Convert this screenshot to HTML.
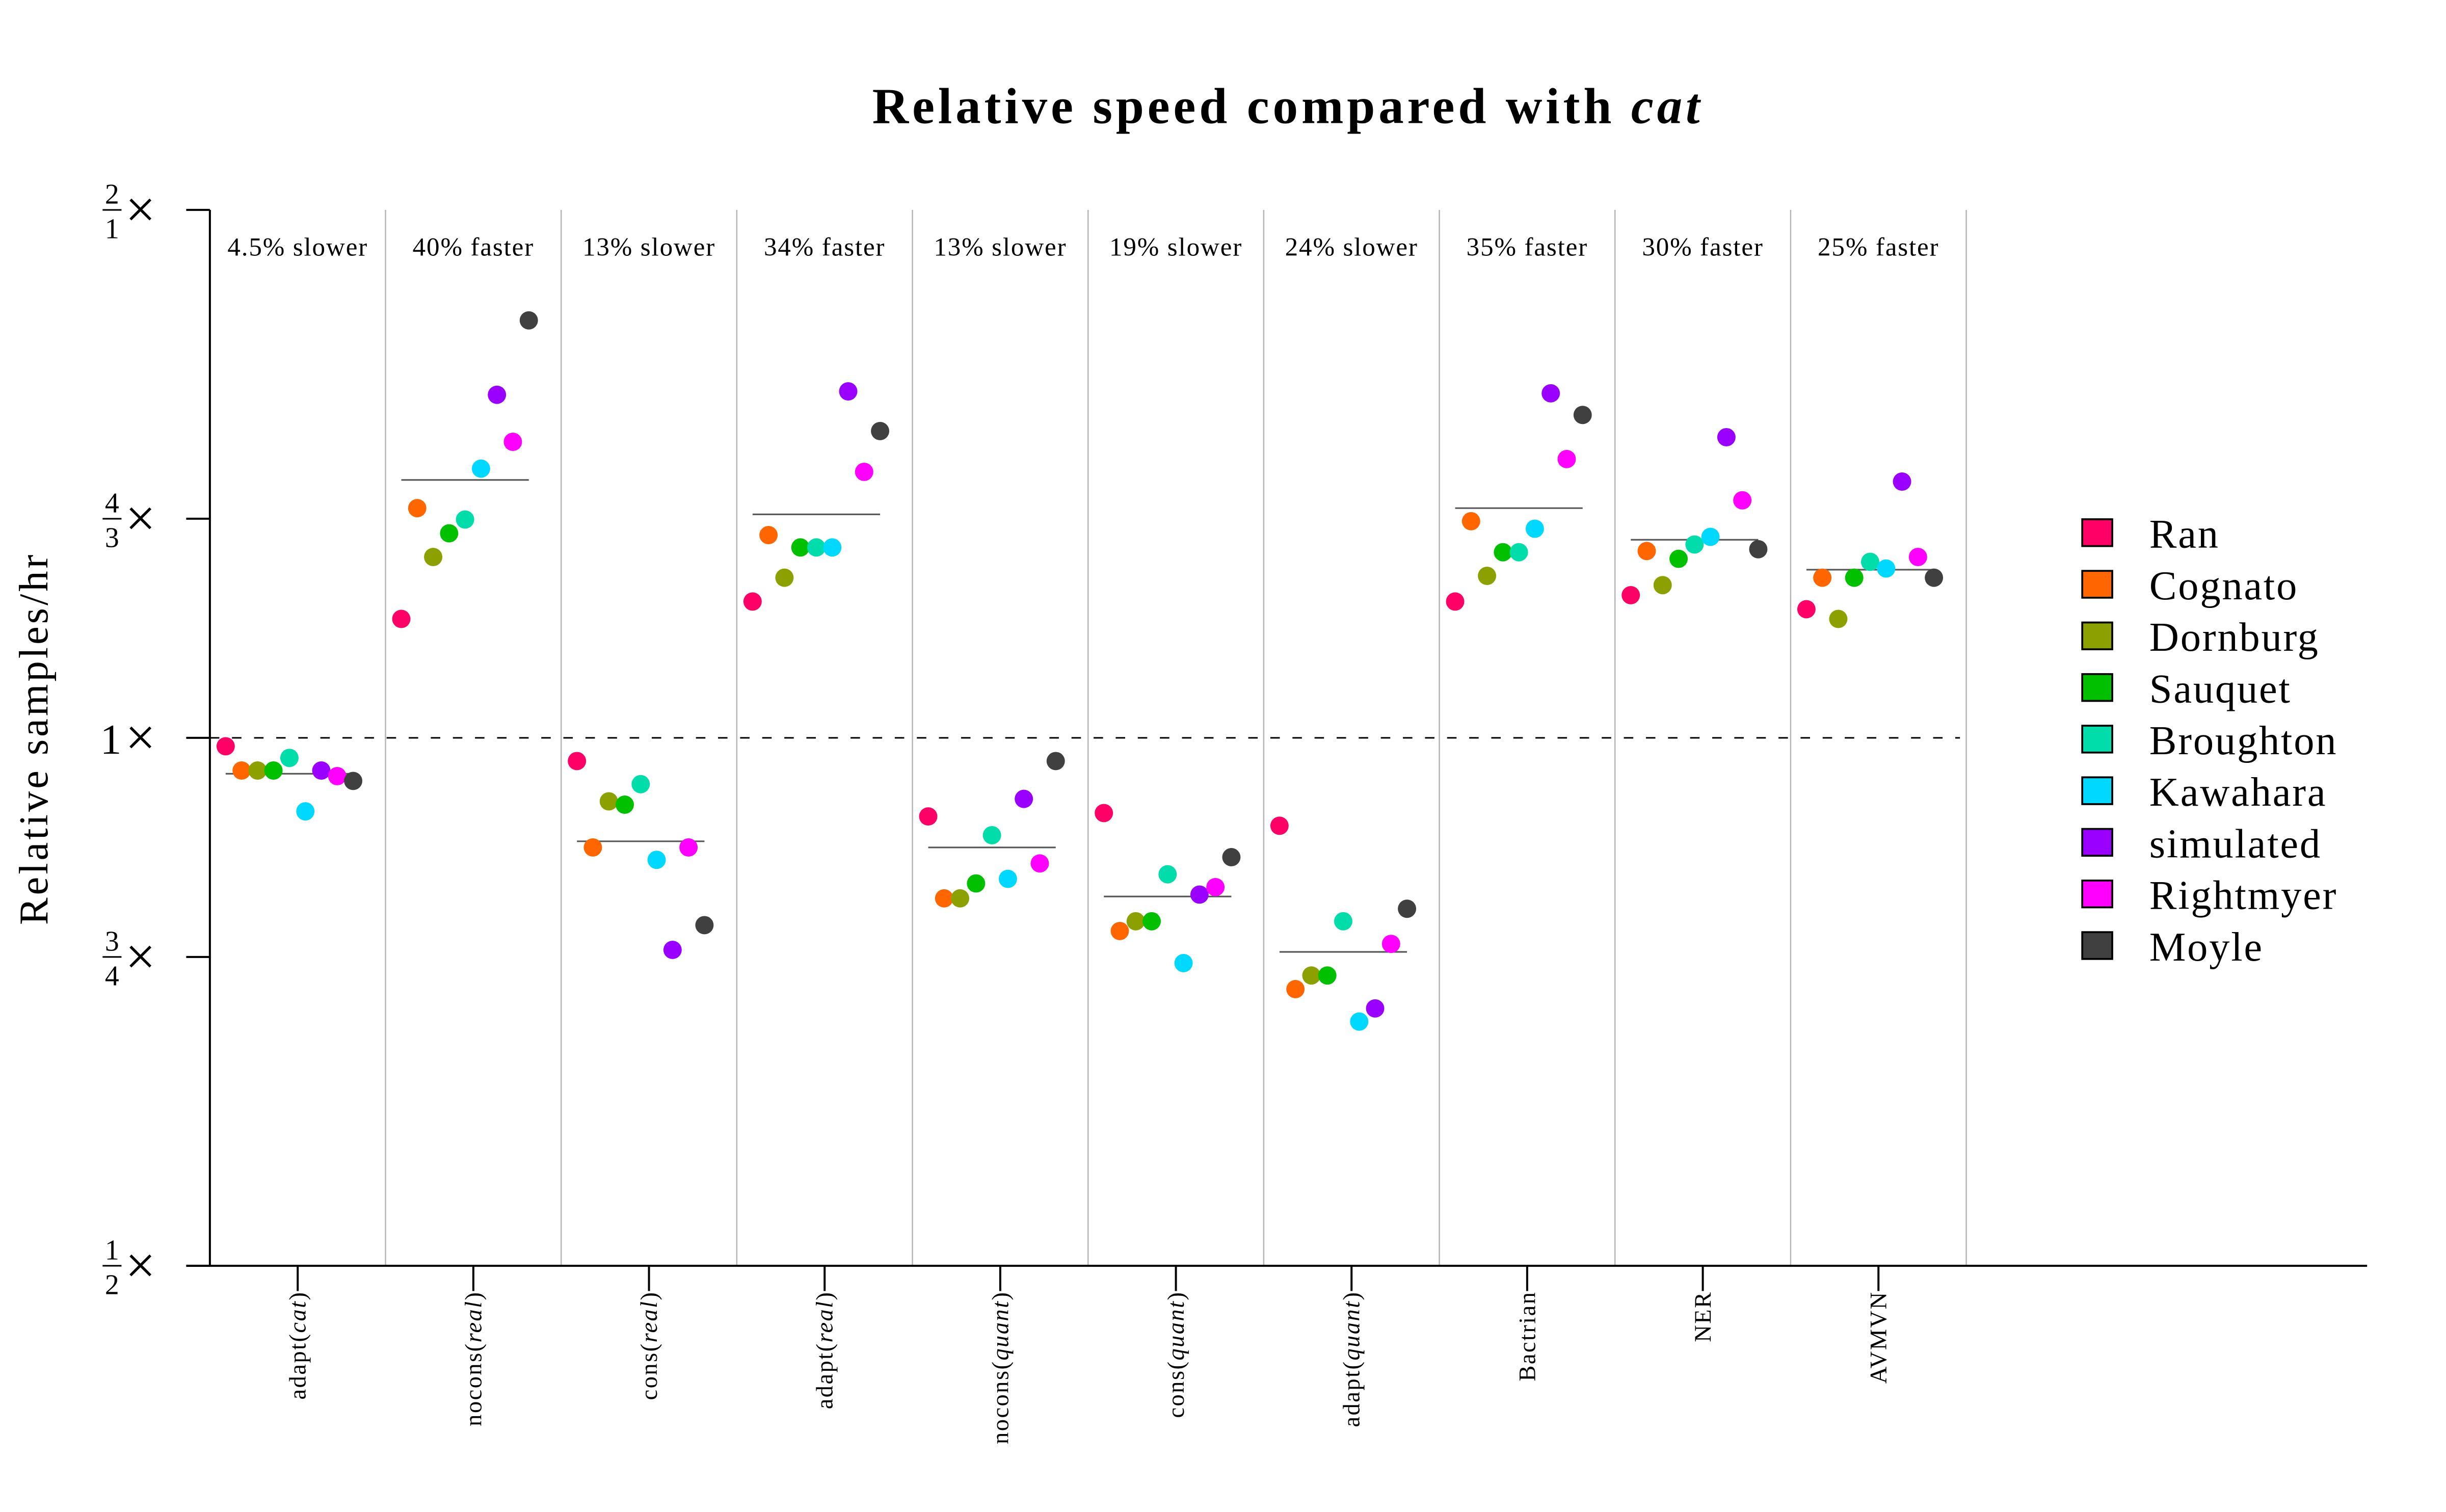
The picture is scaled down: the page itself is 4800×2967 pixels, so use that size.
<!DOCTYPE html>
<html><head><meta charset="utf-8"><style>
html,body{margin:0;padding:0;background:#fff;}
svg{display:block;font-family:"Liberation Serif",serif;}
</style></head><body>
<svg id="chart" xmlns="http://www.w3.org/2000/svg" width="4800" height="2967" viewBox="0 0 1550 958" preserveAspectRatio="none">
<text x="816" y="78" text-anchor="middle" font-size="32" font-weight="bold" letter-spacing="2.2">Relative speed compared with <tspan font-style="italic">cat</tspan></text>
<text transform="translate(30,468) rotate(-90)" text-anchor="middle" font-size="26" letter-spacing="1.6">Relative samples/hr</text>
<g id="plot"></g>
<g id="legend"></g>
</svg>
<script>
const categories = ["adapt(cat)","nocons(real)","cons(real)","adapt(real)","nocons(quant)","cons(quant)","adapt(quant)","Bactrian","NER","AVMVN"];
const seriesNames = ["Ran","Cognato","Dornburg","Sauquet","Broughton","Kawahara","simulated","Rightmyer","Moyle"];
const seriesColors = ["#ff0066","#ff6600","#8ca000","#00c000","#00dcaa","#00d8ff","#9900ff","#ff00ff","#404040"];
const panelLabels = ["4.5% slower","40% faster","13% slower","34% faster","13% slower","19% slower","24% slower","35% faster","30% faster","25% faster"];
const meanValues = [0.954,1.403,0.873,1.341,0.866,0.812,0.755,1.352,1.297,1.247];
const values = [
 [0.989,0.958,0.958,0.958,0.974,0.908,0.958,0.951,0.945],
 [1.169,1.352,1.268,1.308,1.332,1.424,1.569,1.475,1.730],
 [0.970,0.866,0.920,0.916,0.941,0.852,0.757,0.866,0.782],
 [1.196,1.305,1.234,1.284,1.284,1.284,1.576,1.418,1.496],
 [0.902,0.810,0.810,0.826,0.880,0.831,0.923,0.848,0.970],
 [0.906,0.776,0.786,0.786,0.836,0.744,0.814,0.822,0.855],
 [0.891,0.719,0.732,0.732,0.786,0.689,0.701,0.763,0.799],
 [1.196,1.329,1.237,1.276,1.276,1.316,1.572,1.442,1.528],
 [1.206,1.278,1.222,1.265,1.289,1.302,1.484,1.366,1.281],
 [1.184,1.234,1.169,1.234,1.260,1.249,1.400,1.268,1.234]
];
const yTicks = [[2,1],[4,3],[1,1],[3,4],[1,2]];

const NS="http://www.w3.org/2000/svg";
const plot=document.getElementById('plot');
const X0=133, PW=111.3, YT=133, YB=802;
function y(v){return YB-(Math.log2(v)+1)/2*(YB-YT);}
function px(i){return X0+i*PW;}
function mk(tag,attrs,parent){const e=document.createElementNS(NS,tag);for(const k in attrs)e.setAttribute(k,attrs[k]);(parent||plot).appendChild(e);return e;}

for(let i=1;i<=categories.length;i++){
  const l=mk('line',{x1:px(i),x2:px(i),y1:YT,y2:YB,stroke:'#b4b4b4','stroke-width':0.8});
  
  
}
const ref=mk('line',{x1:X0,x2:1242,y1:y(1),y2:y(1),stroke:'#000','stroke-width':1,'stroke-dasharray':'6,8'});


const ya=mk('line',{x1:X0,x2:X0,y1:YT,y2:YB,stroke:'#000','stroke-width':1.3});


const xa=mk('line',{x1:118,x2:1500,y1:YB,y2:YB,stroke:'#000','stroke-width':1.3});



yTicks.forEach(t=>{
  const v=t[0]/t[1], yy=y(v);
  const tk=mk('line',{x1:118,x2:X0,y1:yy,y2:yy,stroke:'#000','stroke-width':1.3});
  
  
  const g=mk('g',{});
  
  
  mk('text',{x:89,y:yy+11,'text-anchor':'middle','font-size':34},g).textContent='×';
  if(t[1]===1&&t[0]===1){
    mk('text',{x:77,y:yy+10,'text-anchor':'end','font-size':27},g).textContent='1';
  } else {
    mk('text',{x:71,y:yy-4,'text-anchor':'middle','font-size':18},g).textContent=String(t[0]);
    mk('line',{x1:65,x2:77,y1:yy,y2:yy,stroke:'#000','stroke-width':1},g);
    mk('text',{x:71,y:yy+18,'text-anchor':'middle','font-size':18},g).textContent=String(t[1]);
  }
});

categories.forEach((c,i)=>{
  const cx=px(i)+PW/2;
  const tk=mk('line',{x1:cx,x2:cx,y1:YB,y2:YB+16,stroke:'#000','stroke-width':1.3});
  
  
  const m=c.match(/^(.*)\((.*)\)$/);
  const t=mk('text',{transform:`translate(${cx+5},818) rotate(-90)`,'text-anchor':'end','font-size':15,'letter-spacing':0.8});
  
  
  if(m){t.appendChild(document.createTextNode(m[1]+'('));const s=mk('tspan',{'font-style':'italic'},t);s.textContent=m[2];t.appendChild(document.createTextNode(')'));}
  else t.textContent=c;
  const lab=mk('text',{x:cx,y:162,'text-anchor':'middle','font-size':16.5,'letter-spacing':0.6});
  
  
  lab.textContent=panelLabels[i];
  const x1=px(i)+10, x2=px(i)+10+8*10.1;
  const ml=mk('line',{x1:x1,x2:x2,y1:y(meanValues[i]),y2:y(meanValues[i]),stroke:'#555','stroke-width':1});
  
  
  values[i].forEach((v,j)=>{
    const d=mk('circle',{cx:px(i)+10+j*10.1,cy:y(v),r:5.8,fill:seriesColors[j]});
    
    
  });
});

const leg=document.getElementById('legend');
seriesNames.forEach((n,j)=>{
  const yy=338+j*32.7;
  const g=mk('g',{},leg);
  
  
  mk('rect',{x:1319.5,y:yy-9,width:19,height:17,fill:seriesColors[j],stroke:'#000','stroke-width':1.2},g);
  mk('text',{x:1362,y:yy+9,'font-size':26,'letter-spacing':0.9},g).textContent=n;
});
</script>
</body></html>
